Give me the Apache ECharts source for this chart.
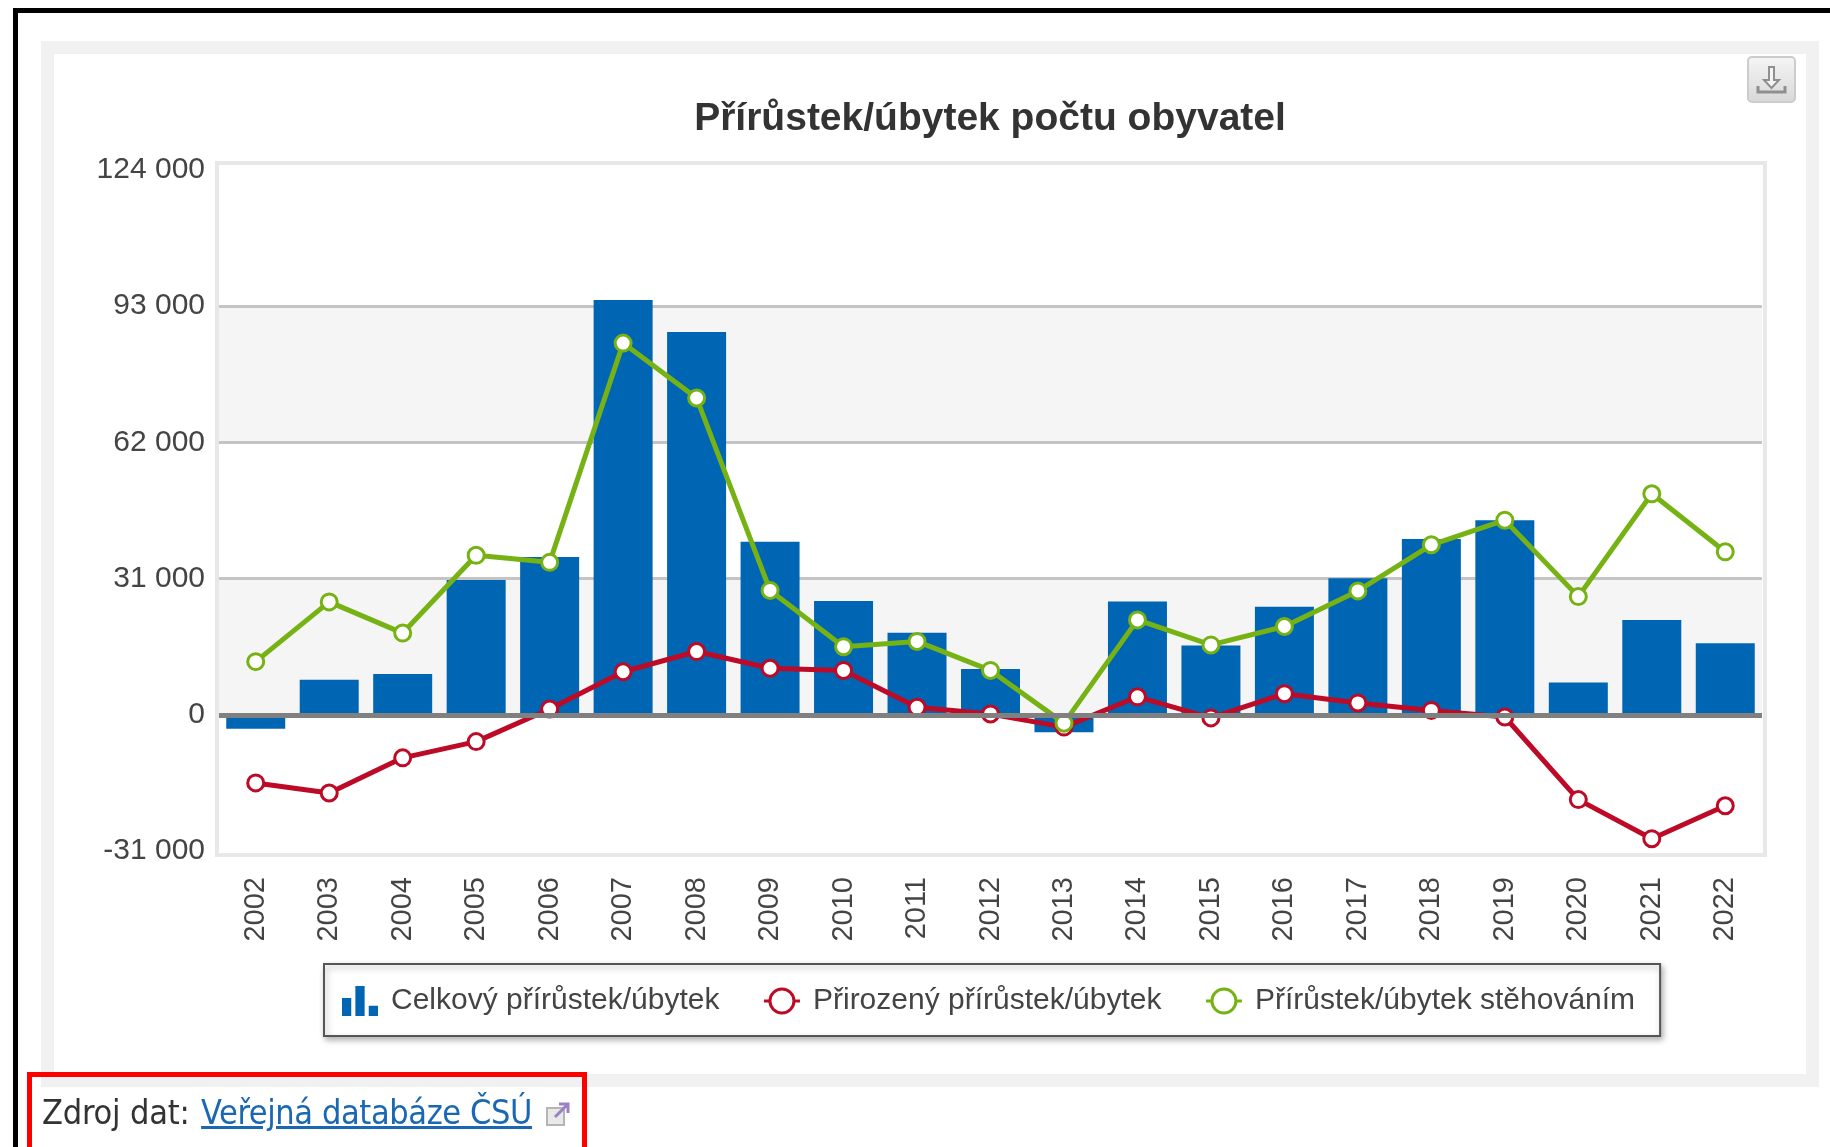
<!DOCTYPE html>
<html>
<head>
<meta charset="utf-8">
<title>Přírůstek/úbytek počtu obyvatel</title>
<script src="https://cdn.jsdelivr.net/npm/echarts@6/dist/echarts.min.js"></script>
<style>
  html, body { margin: 0; padding: 0; background: #fff; overflow: hidden; }
  #page { position: relative; width: 1830px; height: 1147px; overflow: hidden; background: #fff; }
  #page > div, #page > svg { position: absolute; box-sizing: border-box; }
  #outer { left: 13px; top: 8px; width: 1900px; height: 1300px; border: 5px solid #000; }
  #panel { left: 41px; top: 41px; width: 1778px; height: 1046px; background: #fff; border: 13px solid #f1f1f1; }
  #frame { left: 215px; top: 161px; width: 1552px; height: 696px; border: 4px solid #e8e8e8; }
  #chart { left: 0; top: 0; width: 1830px; height: 1147px; }
  #download { left: 1747px; top: 56px; width: 49px; height: 47px; border: 2px solid #ccc; border-radius: 5px; background: linear-gradient(#f4f4f4, #d9d9d9); }
  #redbox { left: 27px; top: 1072px; width: 560px; height: 90px; border: 5px solid #f00; }
  #source { left: 42px; top: 1088px; font: 34px/48px "DejaVu Sans Condensed", "DejaVu Sans", sans-serif; color: #333; white-space: nowrap; letter-spacing: -0.2px; }
  #source a { color: #1a68b4; text-decoration: underline; letter-spacing: -0.4px; margin-left: 2px; }
</style>
</head>
<body>
<div id="page">
  <div id="outer"></div>
  <div id="panel"></div>
  <div id="frame"></div>
  <div id="chart"></div>
  <div id="download">
    <svg width="45" height="43" viewBox="0 0 45 43">
      <path d="M20 9h5v13h5l-7.500 8-7.500-8h5z" fill="#f4f4f4" stroke="#8f8f8f" stroke-width="2"/>
      <path d="M9 28v6h27v-6" fill="none" stroke="#8f8f8f" stroke-width="3"/>
    </svg>
  </div>
  <div id="redbox"></div>
  <div id="source">Zdroj dat: <a href="#">Veřejná databáze ČSÚ</a></div>
  <svg style="left:545px;top:1101px" width="26" height="26" viewBox="0 0 26 26">
    <rect x="2" y="7" width="17" height="17" fill="#e9e9e9" stroke="#b5b5b5" stroke-width="2"/>
    <path d="M10 16L22 4M14 3h9v9" fill="none" stroke="#9a80c4" stroke-width="3"/>
  </svg>
</div>
<script>
  var years = ['2002', '2003', '2004', '2005', '2006', '2007', '2008', '2009', '2010', '2011', '2012',
    '2013', '2014', '2015', '2016', '2017', '2018', '2019', '2020', '2021', '2022'];
  var celkovy = [-3200, 7960, 9300, 30700, 35900, 94400, 87100, 39400, 25900, 18700, 10450,
    -4000, 25760, 15760, 24600, 31100, 40000, 44300, 7350, 21600, 16300];
  var prirozeny = [-15500, -17800, -9800, -6100, 1300, 9800, 14400, 10600, 10100, 1700, 200,
    -2800, 4100, -700, 4800, 2700, 1000, -500, -19300, -28200, -20700];
  var stehovani = [12100, 25700, 18600, 36300, 34700, 84600, 72100, 28300, 15500, 16700, 10100,
    -1900, 21600, 15900, 20100, 28200, 38700, 44300, 26900, 50300, 37100];

  var myChart = echarts.init(document.getElementById('chart'));

  // ikona sloupcu v legende
  var barIcon = 'path://M0 14h9v21H0zM13 0h9v35h-9zM26 23h9v12h-9z';

  myChart.setOption({
    animation: false,
    textStyle: { fontFamily: '"Liberation Sans", Arial, sans-serif' },
    title: {
      text: 'Přírůstek/úbytek počtu obyvatel',
      left: 985,
      top: 95,
      textAlign: 'center',
      textStyle: { fontSize: 39, fontWeight: 'bold', color: '#333' }
    },
    legend: {
      left: 324,
      top: 964,
      padding: [22, 25, 20, 18],
      itemGap: 43,
      itemWidth: 36,
      itemHeight: 30,
      symbolKeepAspect: false,
      backgroundColor: '#fff',
      borderColor: '#555',
      borderWidth: 2,
      shadowColor: 'rgba(0, 0, 0, 0.3)',
      shadowBlur: 6,
      shadowOffsetX: 2,
      shadowOffsetY: 3,
      itemStyle: { borderWidth: 3 },
      lineStyle: { width: 3 },
      textStyle: { fontSize: 30, color: '#444', padding: [14, 0, 0, 8] },
      data: [
        { name: 'Celkový přírůstek/úbytek', icon: barIcon },
        { name: 'Přirozený přírůstek/úbytek' },
        { name: 'Přírůstek/úbytek stěhováním' }
      ]
    },
    grid: { left: 219, right: 68, top: 170, bottom: 296 },
    xAxis: {
      type: 'category',
      data: years,
      axisLine: { show: false, onZero: false },
      axisTick: { show: false },
      axisLabel: { rotate: 90, margin: 26, fontSize: 29, color: '#444', interval: 0, padding: [5, 0, 0, 0] }
    },
    yAxis: {
      type: 'value',
      min: -31000,
      max: 124000,
      interval: 31000,
      axisLine: { show: false },
      axisTick: { show: false },
      axisLabel: {
        margin: 14,
        fontSize: 30,
        color: '#444',
        formatter: function (v) {
          return String(v).replace(/\B(?=(\d{3})+$)/g, ' ');
        }
      },
      splitLine: {
        show: true,
        showMinLine: false,
        showMaxLine: false,
        lineStyle: { color: '#c4c4c4', width: 3 }
      },
      splitArea: { show: true, areaStyle: { color: ['#ffffff', '#f5f5f5'] } }
    },
    series: [
      {
        name: 'Celkový přírůstek/úbytek',
        type: 'bar',
        data: celkovy,
        barWidth: 59,
        itemStyle: { color: '#0066b3' },
        markLine: {
          silent: true,
          symbol: 'none',
          label: { show: false },
          lineStyle: { color: '#808080', width: 5, type: 'solid' },
          data: [{ yAxis: 0 }]
        }
      },
      {
        name: 'Přirozený přírůstek/úbytek',
        type: 'line',
        data: prirozeny,
        symbol: 'circle',
        symbolSize: 16,
        showAllSymbol: true,
        lineStyle: { color: '#bd0a26', width: 5 },
        itemStyle: { color: '#fff', borderColor: '#bd0a26', borderWidth: 3 }
      },
      {
        name: 'Přírůstek/úbytek stěhováním',
        type: 'line',
        data: stehovani,
        symbol: 'circle',
        symbolSize: 16,
        showAllSymbol: true,
        lineStyle: { color: '#76b213', width: 5 },
        itemStyle: { color: '#fff', borderColor: '#76b213', borderWidth: 3 }
      }
    ]
  });
</script>
</body>
</html>
